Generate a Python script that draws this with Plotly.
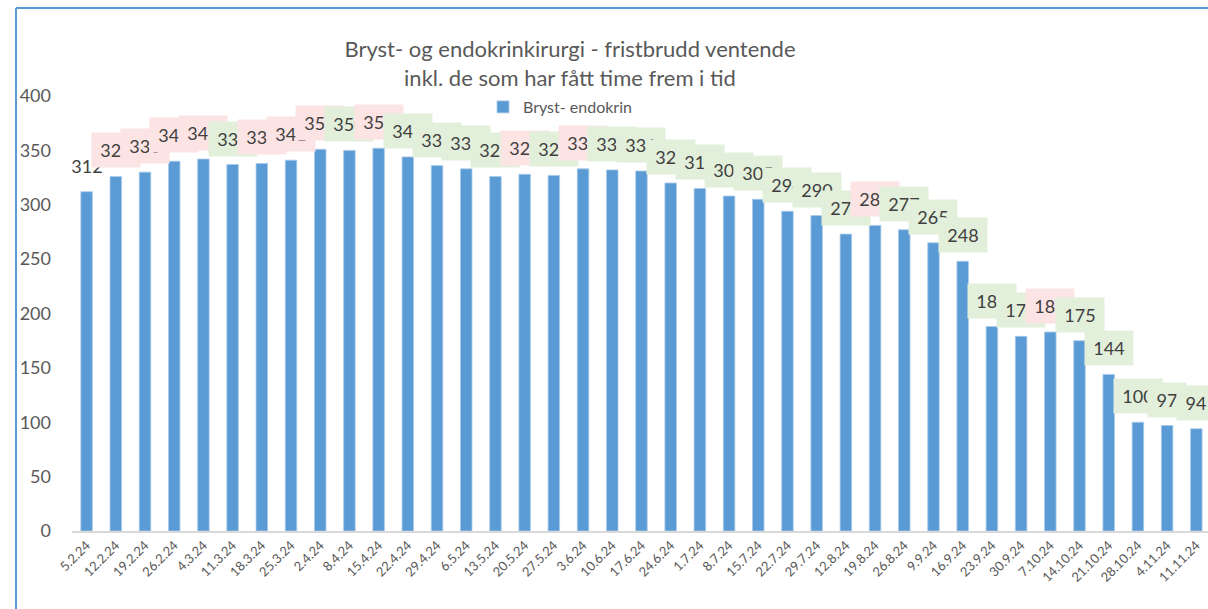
import plotly.graph_objects as go

dates = ["5.2.24", "12.2.24", "19.2.24", "26.2.24", "4.3.24", "11.3.24", "18.3.24", "25.3.24",
         "2.4.24", "8.4.24", "15.4.24", "22.4.24", "29.4.24", "6.5.24", "13.5.24", "20.5.24",
         "27.5.24", "3.6.24", "10.6.24", "17.6.24", "24.6.24", "1.7.24", "8.7.24", "15.7.24",
         "22.7.24", "29.7.24", "12.8.24", "19.8.24", "26.8.24", "9.9.24", "16.9.24", "23.9.24",
         "30.9.24", "7.10.24", "14.10.24", "21.10.24", "28.10.24", "4.11.24", "11.11.24"]

values = [312, 326, 330, 340, 342, 337, 338, 341, 351, 350, 352, 344, 336, 333, 326, 328,
          327, 333, 332, 331, 320, 315, 308, 305, 294, 290, 273, 281, 277, 265, 248, 188,
          179, 183, 175, 144, 100, 97, 94]

series_name = "Bryst- endokrin"
title_text = "Bryst- og endokrinkirurgi - fristbrudd ventende<br>inkl. de som har fått time frem i tid"
y_ticks = [0, 50, 100, 150, 200, 250, 300, 350, 400]

BAR = "#5B9BD5"
PINK = "#FDE4E4"
GREEN = "#E2EFDA"
GRAY = "#595959"
FONT = "Lato"

W, H = 1208, 609
L, R, T, B = 72, 0, 96, 78
pw = W - L - R
ph = H - T - B

fig = go.Figure()
fig.add_trace(go.Bar(
    x=dates, y=values, name=series_name,
    marker=dict(color=BAR, line=dict(color="#A9CBEA", width=0.8)),
    showlegend=True,
))

# data labels: box colour shows change vs previous week; box sized to the text
for i, (d, v) in enumerate(zip(dates, values)):
    if i == 0:
        bg = "rgba(0,0,0,0)"
    elif v > values[i - 1]:
        bg = PINK
    else:
        bg = GREEN
    txt = str(v)
    fig.add_annotation(
        x=d, y=v, xref="x", yref="y", text=txt, showarrow=False,
        yanchor="bottom", yshift=8, width=18 + 10 * len(txt), height=34, borderpad=0,
        bgcolor=bg, font=dict(family=FONT, size=18, color="#404040"), align="center",
    )

# chart frame (left and top edges)
x0 = (16 - L) / pw
ytop = (H - B - 8) / ph
ybot = -(B + 5) / ph
fig.add_shape(type="line", xref="paper", yref="paper", x0=x0, x1=x0, y0=ybot, y1=ytop,
              line=dict(color=BAR, width=2))
fig.add_shape(type="line", xref="paper", yref="paper", x0=x0, x1=1.05, y0=ytop, y1=ytop,
              line=dict(color=BAR, width=2))

fig.update_layout(
    width=W, height=H,
    margin=dict(l=L, r=R, t=T, b=B, autoexpand=False),
    paper_bgcolor="white", plot_bgcolor="white",
    font=dict(family=FONT, color=GRAY),
    bargap=0.605,
    title=dict(text=title_text, x=570 / W, xanchor="center", xref="container",
               y=1 - 57 / H, yanchor="top", yref="container",
               font=dict(family=FONT, size=22, color=GRAY)),
    legend=dict(orientation="h", xref="paper", yref="paper",
                x=(483 - L) / pw, xanchor="left", y=(H - B - 107) / ph, yanchor="middle",
                font=dict(family=FONT, size=16, color=GRAY), bgcolor="rgba(0,0,0,0)"),
    xaxis=dict(type="category", range=[-0.5, 38.4], tickangle=-45, automargin=False,
               tickfont=dict(family=FONT, size=13, color=GRAY),
               showline=True, linecolor="#D9D9D9", linewidth=1.5,
               showgrid=False, ticks=""),
    yaxis=dict(range=[0, 400], tickvals=y_ticks, showgrid=False, zeroline=False, automargin=False,
               showline=False, ticks="", ticklabelstandoff=20,
               tickfont=dict(family=FONT, size=18, color=GRAY)),
)

fig.write_html("out.html", config={"displayModeBar": False},
               post_script="document.body.style.margin='0';")
